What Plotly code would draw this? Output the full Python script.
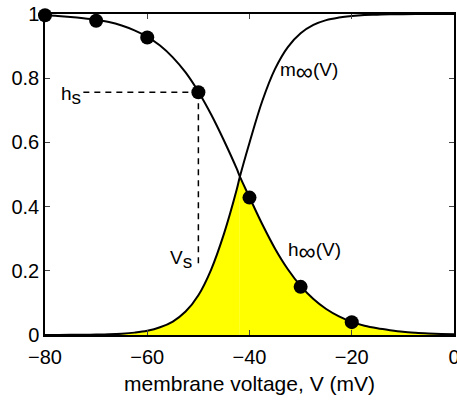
import plotly.graph_objects as go

# Voltage grid (mV) and curve values
V = [-80, -77.5, -75, -72.5, -70, -67.5, -65, -62.5, -60, -57.5, -55, -52.5,
     -50, -47.5, -45, -42.5, -41.9, -40, -37.5, -35, -32.5, -30, -27.5, -25,
     -22.5, -20, -17.5, -15, -12.5, -10, -7.5, -5, -2.5, 0]
h_inf = [0.996, 0.994, 0.991, 0.987, 0.982, 0.975, 0.964, 0.949, 0.929, 0.902,
         0.865, 0.818, 0.758, 0.687, 0.606, 0.518, 0.494, 0.429, 0.345, 0.269,
         0.205, 0.153, 0.112, 0.081, 0.058, 0.041, 0.029, 0.021, 0.015, 0.010,
         0.007, 0.005, 0.0035, 0.0025]
m_inf = [0.0001, 0.0002, 0.0004, 0.0007, 0.0013, 0.0023, 0.0042, 0.0074, 0.013,
         0.024, 0.042, 0.073, 0.124, 0.204, 0.315, 0.453, 0.492, 0.599, 0.729,
         0.829, 0.897, 0.940, 0.966, 0.981, 0.989, 0.994, 0.997, 0.998, 0.999,
         0.9994, 0.9997, 0.9998, 0.9999, 0.9999]
V_cross = -41.9

# Sampled points on h_inf
V_pts = [-80, -70, -60, -50, -40, -30, -20]
h_pts = [0.996, 0.979, 0.927, 0.756, 0.428, 0.150, 0.040]

# Annotation values
V_s = -50
h_s = 0.756
V_s_low = 0.22
h_s_left = -72.5

x_ticks = [-80, -60, -40, -20, 0]
y_ticks = [0, 0.2, 0.4, 0.6, 0.8, 1]
y_tick_text = ["0", "0.2", "0.4", "0.6", "0.8", "1"]

fig = go.Figure()

# Yellow overlap region (min of m and h), split at the crossing
left_x = [v for v in V if v <= V_cross]
left_y = [m for v, m in zip(V, m_inf) if v <= V_cross]
right_x = [v for v in V if v >= V_cross]
right_y = [h for v, h in zip(V, h_inf) if v >= V_cross]
for xs, ys in [(left_x, left_y), (right_x, right_y)]:
    fig.add_trace(go.Scatter(x=xs, y=ys, mode="lines", fill="tozeroy",
                             fillcolor="#ffff00", line=dict(width=0, shape="spline"),
                             hoverinfo="skip", showlegend=False))

fig.add_trace(go.Scatter(x=V, y=m_inf, mode="lines",
                         line=dict(color="black", width=2, shape="spline"),
                         showlegend=False))
fig.add_trace(go.Scatter(x=V, y=h_inf, mode="lines",
                         line=dict(color="black", width=2, shape="spline"),
                         showlegend=False))

# Dashed guide lines
fig.add_trace(go.Scatter(x=[h_s_left, V_s], y=[h_s, h_s], mode="lines",
                         line=dict(color="black", width=1.5, dash="6px,5px"),
                         showlegend=False))
fig.add_trace(go.Scatter(x=[V_s, V_s], y=[h_s, V_s_low], mode="lines",
                         line=dict(color="black", width=1.5, dash="6px,5px"),
                         showlegend=False))

fig.add_trace(go.Scatter(x=V_pts, y=h_pts, mode="markers",
                         marker=dict(color="black", size=14), showlegend=False,
                         cliponaxis=False))

fam = "Liberation Sans, Arial, sans-serif"
tick_font = dict(family=fam, size=20, color="black")
title_font = dict(family=fam, size=21, color="black")
ann_font = dict(family=fam, size=19, color="black")
sub_s = '<sub><span style="font-size:19px">s</span></sub>'
sub_inf = '<sub><span style="font-size:24px">∞</span></sub>'
anns = [
    dict(x=-72.5, y=0.745, text="h" + sub_s, xanchor="right"),
    dict(x=-50.8, y=0.235, text="V" + sub_s, xanchor="right"),
    dict(x=-34.5, y=0.82, text="m" + sub_inf + "(V)", xanchor="left"),
    dict(x=-32.8, y=0.26, text="h" + sub_inf + "(V)", xanchor="left"),
]
for a in anns:
    fig.add_annotation(x=a["x"], y=a["y"], text=a["text"], xanchor=a["xanchor"],
                       yanchor="middle", showarrow=False, font=ann_font)

fig.update_layout(
    width=457, height=400,
    margin=dict(l=45, r=3, t=14, b=65),
    plot_bgcolor="white", paper_bgcolor="white",
    font=tick_font,
    xaxis=dict(range=[-80, 0], tickvals=x_ticks, ticks="inside", ticklen=5,
               showline=True, linecolor="black", linewidth=1.5, mirror="ticks",
               showgrid=False, zeroline=False, automargin=False,
               ticklabeloverflow="allow", tickfont=tick_font, ticklabelstandoff=3,
               title=dict(text="membrane voltage, V (mV)", font=title_font, standoff=10)),
    yaxis=dict(range=[0, 1], tickvals=y_ticks, ticktext=y_tick_text,
               ticks="inside", ticklen=5, tickfont=tick_font,
               showline=True, linecolor="black", linewidth=1.5, mirror="ticks",
               showgrid=False, zeroline=False, automargin=False),
)

fig.write_html("out.html", config={"displayModeBar": False},
               post_script="document.body.style.margin='0';document.body.style.overflow='hidden';")
